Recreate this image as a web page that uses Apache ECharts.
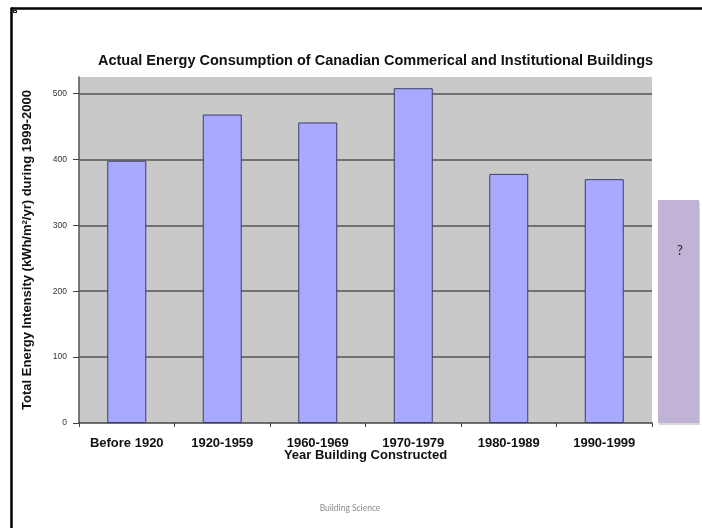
<!DOCTYPE html>
<html>
<head>
<meta charset="utf-8">
<script src="https://cdn.jsdelivr.net/npm/echarts@6/dist/echarts.min.js"></script>
<style>
  html, body { margin: 0; padding: 0; background: #ffffff; }
  #chart { width: 702px; height: 528px; }
</style>
</head>
<body>
<div id="chart"></div>
<script>
// Construction periods and measured energy intensity (kWh/m²/yr, 1999-2000)
const periods = ['Before 1920', '1920-1959', '1960-1969', '1970-1979', '1980-1989', '1990-1999'];
const intensity = [398, 468, 456, 508, 378, 370];
const yTicks = [0, 100, 200, 300, 400, 500];

const chart = echarts.init(document.getElementById('chart'), null, { renderer: 'canvas' });

const FONT = '"Liberation Sans", Arial, Helvetica, sans-serif';

chart.setOption({
  animation: false,
  backgroundColor: '#ffffff',
  title: {
    text: 'Actual Energy Consumption of Canadian Commerical and Institutional Buildings',
    left: 98,
    top: 53,
    padding: 0,
    textStyle: { fontFamily: FONT, fontSize: 14.5, fontWeight: 'bold', color: '#111' }
  },
  grid: {
    left: 79, right: 50, top: 77, bottom: 105,
    show: true, backgroundColor: '#c9c9c9', borderWidth: 0
  },
  xAxis: {
    type: 'category',
    data: periods,
    name: 'Year Building Constructed',
    nameLocation: 'middle',
    nameGap: 26,
    nameMoveOverlap: false,
    nameTextStyle: { fontFamily: FONT, fontSize: 13, fontWeight: 'bold', color: '#111' },
    axisLine: { lineStyle: { color: '#444', width: 1.5 } },
    axisTick: { show: true, alignWithLabel: false, length: 4, lineStyle: { color: '#444' } },
    axisLabel: {
      interval: 0, margin: 14,
      fontFamily: FONT, fontSize: 13, fontWeight: 'bold', color: '#111'
    },
    splitLine: { show: false }
  },
  yAxis: {
    type: 'value',
    min: 0, max: 525, interval: 100,
    name: 'Total Energy Intensity (kWh/m²/yr) during 1999-2000',
    nameLocation: 'middle',
    nameGap: 45,
    nameMoveOverlap: false,
    nameTextStyle: { fontFamily: FONT, fontSize: 13, fontWeight: 'bold', color: '#111' },
    axisLine: { show: true, lineStyle: { color: '#555', width: 1.5 } },
    axisTick: { show: true, inside: false, length: 6, lineStyle: { color: '#444', width: 1 } },
    axisLabel: {
      margin: 12, fontFamily: FONT, fontSize: 8.5, color: '#333',
      showMaxLabel: false,
      formatter: v => (yTicks.indexOf(v) >= 0 ? String(v) : '')
    },
    splitLine: { show: true, showMinLine: false, showMaxLine: false, lineStyle: { color: '#555', width: 1.5 } }
  },
  series: [{
    type: 'bar',
    data: intensity,
    barWidth: 39,
    itemStyle: { color: '#a9aaff', borderColor: '#3c3c6c', borderWidth: 1 }
  }],
  graphic: [
    // slide frame
    { type: 'line', shape: { x1: 11, y1: 8.5, x2: 702, y2: 8.5 }, style: { stroke: '#000', lineWidth: 2.5 } },
    { type: 'line', shape: { x1: 11.5, y1: 7.5, x2: 11.5, y2: 528 }, style: { stroke: '#000', lineWidth: 2.5 } },
    { type: 'rect', shape: { x: 13.5, y: 10.5, width: 3, height: 2 }, style: { fill: '#fff', stroke: '#000', lineWidth: 1 } },
    // side note box
    { type: 'rect', shape: { x: 659, y: 202, width: 41, height: 223 }, style: { fill: '#d8d8d8' } },
    { type: 'rect', shape: { x: 658, y: 200, width: 41, height: 223 }, style: { fill: '#c0b3d6' } },
    { type: 'text', x: 680, y: 251, style: { text: '?', fontFamily: '"Lato", "Open Sans", sans-serif', fontSize: 13, fill: '#222', align: 'center', verticalAlign: 'middle' } },
    // footer
    { type: 'text', x: 350, y: 508, style: { text: 'Building Science', fontFamily: '"Lato", "Open Sans", sans-serif', fontSize: 8.5, fill: '#8a8a8a', align: 'center', verticalAlign: 'middle' } }
  ]
});
</script>
</body>
</html>
